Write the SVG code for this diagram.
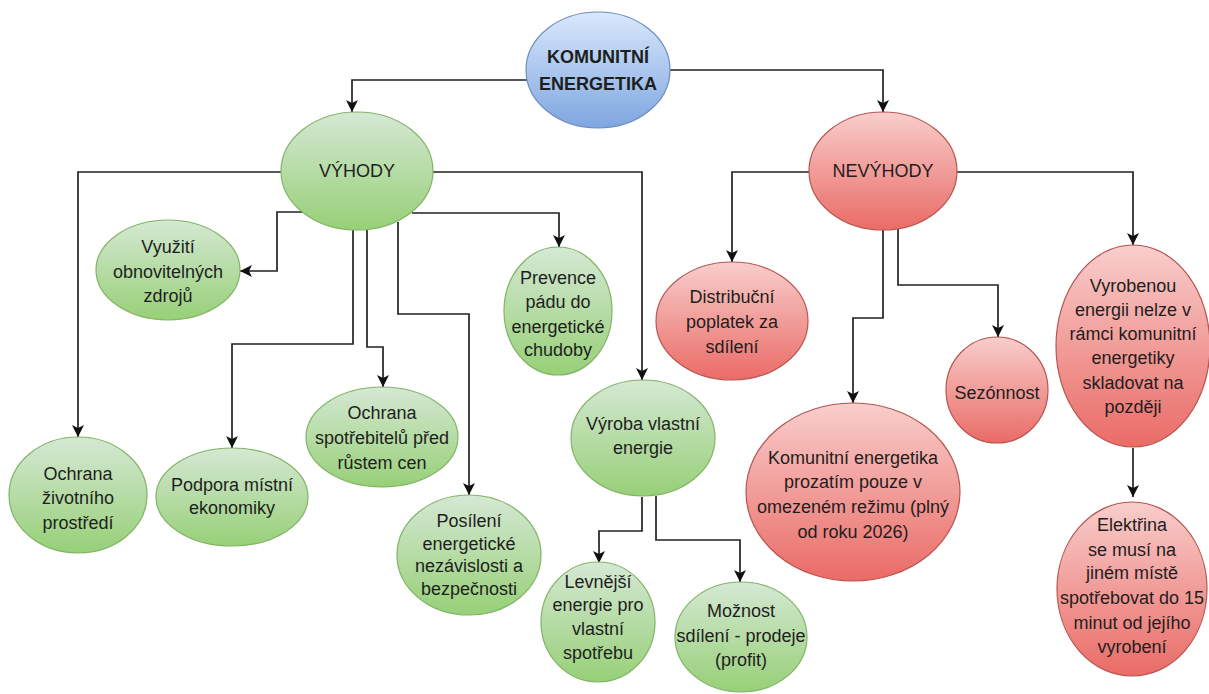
<svg xmlns="http://www.w3.org/2000/svg" width="1209" height="694" viewBox="0 0 1209 694">
<defs>
<linearGradient id="gGreen" x1="0" y1="0" x2="0" y2="1"><stop offset="0" stop-color="#d5e8d4"/><stop offset="1" stop-color="#97d077"/></linearGradient>
<linearGradient id="gRed" x1="0" y1="0" x2="0" y2="1"><stop offset="0" stop-color="#f8cecc"/><stop offset="1" stop-color="#ea6b66"/></linearGradient>
<linearGradient id="gBlue" x1="0" y1="0" x2="0" y2="1"><stop offset="0" stop-color="#dae8fc"/><stop offset="1" stop-color="#7ea6e0"/></linearGradient>
<marker id="arr" markerUnits="userSpaceOnUse" markerWidth="12" markerHeight="12" viewBox="0 0 12 12" refX="12" refY="6" orient="auto">
<path d="M0,0 L12,6 L0,12 L3,6 Z" fill="#111"/>
</marker>
<style>
.green{fill:url(#gGreen);stroke:#82b366;stroke-width:1.2}
.red{fill:url(#gRed);stroke:#b85450;stroke-width:1.2}
.blue{fill:url(#gBlue);stroke:#6c8ebf;stroke-width:1.2}
text{font-family:"Liberation Sans",Arial,sans-serif;font-size:18px;fill:#1e1e1e;text-anchor:middle;dominant-baseline:central}
.b{font-weight:bold}
.c{fill:none;stroke:#222;stroke-width:1.7;marker-end:url(#arr)}
</style>
</defs>
<g id="connectors">
<path class="c" d="M527,80 H352 V112"/>
<path class="c" d="M670,70 H883 V112"/>
<path class="c" d="M281,172 H78 V437"/>
<path class="c" d="M303,212 H277 V271 H240"/>
<path class="c" d="M353,230 V344 H232 V448"/>
<path class="c" d="M367,230 V347 H383 V387"/>
<path class="c" d="M398,222 V314 H469 V495"/>
<path class="c" d="M412,213 H559 V247"/>
<path class="c" d="M433,172 H642 V380"/>
<path class="c" d="M642,497 V531 H599 V563"/>
<path class="c" d="M656,496 V540 H740 V582"/>
<path class="c" d="M809,172 H732 V262"/>
<path class="c" d="M883,230 V318 H853 V403"/>
<path class="c" d="M898,229 V285 H998 V337"/>
<path class="c" d="M957,172 H1133 V245"/>
<path class="c" d="M1133,448 V497"/>
</g>
<g id="komunitni-energetika">
<ellipse class="blue" cx="598" cy="70" rx="72" ry="58"/>
<text class="b" x="598" y="57">KOMUNITNÍ</text>
<text class="b" x="598" y="84">ENERGETIKA</text>
</g>
<g id="vyhody">
<ellipse class="green" cx="357" cy="171" rx="76" ry="59"/>
<text x="357" y="171">VÝHODY</text>
</g>
<g id="nevyhody">
<ellipse class="red" cx="883" cy="171" rx="74" ry="59"/>
<text x="883" y="171">NEVÝHODY</text>
</g>
<g id="vyuziti">
<ellipse class="green" cx="168" cy="270" rx="72" ry="50"/>
<text x="168" y="247">Využití</text>
<text x="168" y="272">obnovitelných</text>
<text x="168" y="296">zdrojů</text>
</g>
<g id="ochrana-zivotniho">
<ellipse class="green" cx="78" cy="495" rx="69" ry="58"/>
<text x="78" y="474">Ochrana</text>
<text x="78" y="498">životního</text>
<text x="78" y="523">prostředí</text>
</g>
<g id="podpora">
<ellipse class="green" cx="232" cy="497" rx="76" ry="49"/>
<text x="232" y="485">Podpora místní</text>
<text x="232" y="508">ekonomiky</text>
</g>
<g id="ochrana-spotrebitelu">
<ellipse class="green" cx="382" cy="437" rx="76" ry="50"/>
<text x="382" y="413">Ochrana</text>
<text x="382" y="438">spotřebitelů před</text>
<text x="382" y="463">růstem cen</text>
</g>
<g id="posileni">
<ellipse class="green" cx="469" cy="555" rx="72" ry="60"/>
<text x="469" y="521">Posílení</text>
<text x="469" y="544">energetické</text>
<text x="469" y="566">nezávislosti a</text>
<text x="469" y="589">bezpečnosti</text>
</g>
<g id="prevence">
<ellipse class="green" cx="558" cy="311" rx="54" ry="64"/>
<text x="558" y="278">Prevence</text>
<text x="558" y="302">pádu do</text>
<text x="558" y="327">energetické</text>
<text x="558" y="350">chudoby</text>
</g>
<g id="vyroba">
<ellipse class="green" cx="643" cy="438" rx="72" ry="58"/>
<text x="643" y="424">Výroba vlastní</text>
<text x="643" y="448">energie</text>
</g>
<g id="levnejsi">
<ellipse class="green" cx="598" cy="622" rx="57" ry="60"/>
<text x="598" y="582">Levnější</text>
<text x="598" y="605">energie pro</text>
<text x="598" y="629">vlastní</text>
<text x="598" y="653">spotřebu</text>
</g>
<g id="moznost">
<ellipse class="green" cx="741" cy="637" rx="66" ry="55"/>
<text x="741" y="611">Možnost</text>
<text x="741" y="636">sdílení - prodeje</text>
<text x="741" y="660">(profit)</text>
</g>
<g id="distribucni">
<ellipse class="red" cx="732" cy="321" rx="76" ry="59"/>
<text x="732" y="297">Distribuční</text>
<text x="732" y="322">poplatek za</text>
<text x="732" y="347">sdílení</text>
</g>
<g id="komunitni-omezeny">
<ellipse class="red" cx="853" cy="492" rx="107" ry="89"/>
<text x="853" y="458">Komunitní energetika</text>
<text x="853" y="482">prozatím pouze v</text>
<text x="853" y="507">omezeném režimu (plný</text>
<text x="853" y="532">od roku 2026)</text>
</g>
<g id="sezonnost">
<ellipse class="red" cx="997" cy="390" rx="51" ry="53"/>
<text x="997" y="393">Sezónnost</text>
</g>
<g id="vyrobenou">
<ellipse class="red" cx="1133" cy="346" rx="77" ry="101"/>
<text x="1133" y="286">Vyrobenou</text>
<text x="1133" y="310">energii nelze v</text>
<text x="1133" y="334">rámci komunitní</text>
<text x="1133" y="358">energetiky</text>
<text x="1133" y="383">skladovat na</text>
<text x="1133" y="407">později</text>
</g>
<g id="elektrina">
<ellipse class="red" cx="1132" cy="589" rx="75" ry="87"/>
<text x="1132" y="525">Elektřina</text>
<text x="1132" y="550">se musí na</text>
<text x="1132" y="573">jiném místě</text>
<text x="1132" y="598">spotřebovat do 15</text>
<text x="1132" y="623">minut od jejího</text>
<text x="1132" y="647">vyrobení</text>
</g>
</svg>
